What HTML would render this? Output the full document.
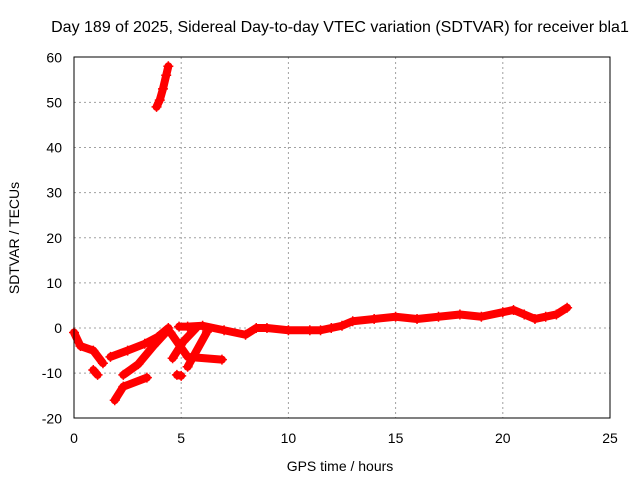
<!DOCTYPE html>
<html><head><meta charset="utf-8"><style>
body{margin:0;background:#fff}
svg text{font-family:"Liberation Sans",sans-serif;font-size:14px;fill:#000}
</style></head><body>
<svg width="640" height="480">
<rect width="640" height="480" fill="#fff"/>
<g id="grid"></g><g id="marks"></g><g id="axes"></g>
<text x="340" y="32" text-anchor="middle" style="font-size:16px">Day 189 of 2025, Sidereal Day-to-day VTEC variation (SDTVAR) for receiver bla1</text>
<text x="340" y="471" text-anchor="middle">GPS time / hours</text>
<text transform="translate(19,238) rotate(-90)" text-anchor="middle">SDTVAR / TECUs</text>
</svg>
<script>
const xTicks=[0,5,10,15,20,25];
const yTicks=[-20,-10,0,10,20,30,40,50,60];
const track1=[[3.85,49],[4.0,50.5],[4.15,53],[4.3,56],[4.4,58]];
const track2=[[4.9,0.3],[5.3,0.3],[6,0.5],[7,-0.5],[8,-1.5],[8.5,0],[9,0],[10,-0.5],[11,-0.5],[11.5,-0.5],[12,0],[12.5,0.5],[13,1.5],[14,2],[15,2.5],[16,2],[17,2.5],[18,3],[19,2.5],[20,3.5],[20.5,4],[21,3],[21.5,2],[22,2.5],[22.5,3],[23,4.5]];
const track3=[[0,-1],[0.3,-4],[0.9,-5],[1.35,-7.8]];
const track4=[[1.7,-6.4],[2.5,-5],[3.3,-3.5],[3.9,-2],[4.4,0]];
const track5=[[2.3,-10.4],[3,-8],[3.7,-4],[4.3,-0.9]];
const track6=[[1.9,-16],[2.3,-13],[3.4,-11]];
const track7=[[0.9,-9.3],[1.1,-10.4]];
const track8=[[4.5,-1],[5.3,-6.4],[6.9,-7]];
const track9=[[4.6,-6.7],[5.1,-3],[5.7,0]];
const track10=[[5.3,-8.6],[6.2,-0.9]];
const track11=[[4.8,-10.4],[5.0,-10.6]];
const tracks=[track1,track2,track3,track4,track5,track6,track7,track8,track9,track10,track11];
const X=v=>74+v*(610-74)/25, Y=v=>328-v*(418-57)/80;
const NS='http://www.w3.org/2000/svg';
function mk(t,a,p){const e=document.createElementNS(NS,t);for(const k in a)e.setAttribute(k,a[k]);p.appendChild(e);return e;}
const grid=document.getElementById('grid'),axes=document.getElementById('axes'),marks=document.getElementById('marks');
xTicks.forEach(t=>{
 if(t>0&&t<25){const l=mk('line',{x1:X(t),x2:X(t),y1:57,y2:418,stroke:'#a0a0a0','stroke-dasharray':'2,3'},grid);
 
 }
 const tx=mk('text',{x:X(t),y:443,'text-anchor':'middle'},axes);tx.textContent=t;
 
 
});
yTicks.forEach(t=>{
 if(t>-20&&t<60){const l=mk('line',{x1:74,x2:610,y1:Y(t),y2:Y(t),stroke:'#a0a0a0','stroke-dasharray':'2,3'},grid);
 
 }
 const tx=mk('text',{x:62,y:Y(t)+5,'text-anchor':'end'},axes);tx.textContent=t;
 
 
});
const fr=mk('rect',{x:74,y:57,width:536,height:361,fill:'none',stroke:'#000'},axes);


tracks.forEach(tr=>{
 const pl=mk('polyline',{points:tr.map(p=>X(p[0])+','+Y(p[1])).join(' '),fill:'none',stroke:'#f00','stroke-width':8,'stroke-linejoin':'round','stroke-linecap':'round'},marks);
 
 
 tr.forEach(p=>{
  const x=X(p[0]),y=Y(p[1]);
  const m=mk('path',{d:`M${x-5},${y}H${x+5}M${x},${y-5}V${y+5}`,stroke:'#f00','stroke-width':1.5},marks);
  
  
 });
});
</script>
</body></html>
